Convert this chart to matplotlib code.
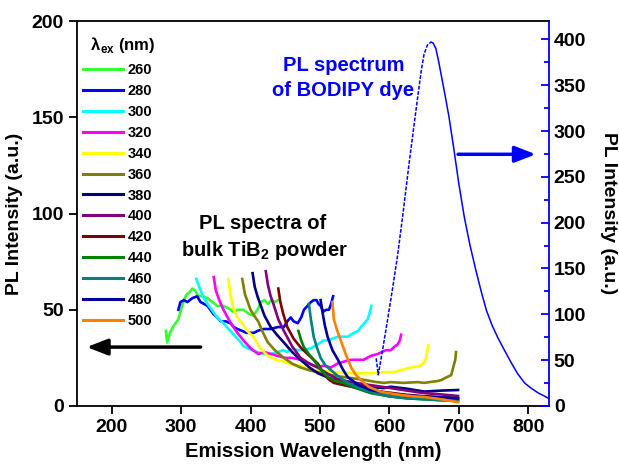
import matplotlib
matplotlib.use("Agg")
import matplotlib.pyplot as plt
import numpy as np

plt.rcParams['font.family'] = ['Liberation Sans', 'DejaVu Sans']
plt.rcParams['font.weight'] = 'bold'
plt.rcParams['mathtext.fontset'] = 'custom'
plt.rcParams['mathtext.rm'] = 'Liberation Sans'
plt.rcParams['mathtext.bf'] = 'Liberation Sans:bold'

# ---------------- data ----------------
excitation = ["260", "280", "300", "320", "340", "360", "380", "400", "420", "440", "460", "480", "500"]
colors = ['#33FF33', '#0000FF', '#00FFFF', '#FF00FF', '#FFFF00', '#808000', '#000080',
          '#800080', '#800000', '#008000', '#008080', '#0000A0', '#FF8000']

wl_260 = [278, 280, 284, 288, 292, 296, 300, 304, 308, 312, 316, 320, 325, 331, 338, 345, 352, 360, 367, 375, 382, 390, 397, 404, 410, 415, 420, 425, 430, 435, 440]
pl_260 = [39, 33, 38, 41, 43, 45, 50, 55, 58, 59, 61, 60, 57, 57, 56, 54, 52, 52, 51, 49, 50, 50, 48, 47, 50, 54, 55, 53, 55, 54, 55]

wl_280 = [296, 299, 304, 309, 316, 323, 328, 333, 338, 346, 352, 357, 364, 371, 376, 381, 388, 394, 400, 405, 410, 419, 429, 439, 448, 453, 458, 462, 468, 473, 477, 482, 487, 491, 495, 498, 501, 505, 509, 513, 516, 519]
pl_280 = [50, 54, 55, 54, 56, 57, 54, 53, 52, 48, 46, 44, 44, 43, 41, 40, 39, 38, 38, 38, 39, 40, 40, 41, 41, 44, 46, 44, 43, 46, 50, 52, 54, 55, 55, 53, 52, 49, 50, 50, 53, 57]

wl_300 = [322, 325, 328, 333, 338, 342, 346, 352, 361, 366, 371, 376, 381, 386, 390, 396, 402, 410, 420, 429, 439, 447, 453, 460, 468, 477, 487, 497, 505, 511, 518, 526, 533, 540, 549, 555, 559, 564, 569, 572, 574]
pl_300 = [66, 63, 60, 56, 53, 51, 49, 46, 43, 41, 39, 37, 35, 33, 31, 30, 29, 28, 27, 27, 28, 29, 28, 30, 29, 29, 30, 32, 34, 34, 35, 36, 36, 36, 38, 39, 41, 43, 45, 49, 52]

wl_320 = [347, 350, 355, 361, 370, 381, 390, 400, 411, 420, 430, 439, 450, 460, 472, 485, 497, 505, 516, 525, 534, 545, 554, 563, 573, 583, 595, 602, 608, 612, 615, 617]
pl_320 = [67, 60, 55, 50, 44, 38, 34, 30, 27, 28, 27, 26, 25, 25, 24, 22, 20, 21, 20, 22, 23, 24, 24, 24, 26, 27, 29, 29, 31, 32, 34, 37]

wl_340 = [368, 371, 375, 381, 388, 395, 404, 414, 425, 437, 448, 460, 472, 485, 497, 510, 525, 544, 560, 575, 592, 607, 620, 631, 640, 645, 650, 653, 656]
pl_340 = [66, 58, 51, 46, 43, 39, 36, 30, 26, 24, 23, 21.5, 21, 19, 18.6, 18, 17.5, 17, 17, 17, 17.6, 17.6, 19, 20, 20.5, 21, 22.5, 25, 31.6]

wl_360 = [388, 392, 396, 400, 405, 411, 418, 425, 435, 448, 460, 472, 485, 497, 510, 525, 545, 565, 580, 592, 602, 620, 641, 650, 660, 670, 675, 683, 689, 692, 695, 696]
pl_360 = [66, 58, 54, 50, 47, 44, 38, 33, 29, 25, 22, 20, 18.5, 17.6, 16.5, 15.5, 14.5, 13.5, 12.5, 12, 12.4, 12, 12.4, 12, 12.5, 13, 13.5, 15, 16, 20, 24, 28]

wl_380 = [403, 406, 410, 414, 420, 429, 438, 448, 460, 472, 485, 497, 510, 525, 545, 565, 592, 602, 625, 650, 675, 699]
pl_380 = [69, 62, 57, 53, 47, 41, 37, 33, 28, 24, 20, 17, 15, 13, 11, 10, 9.3, 10, 9, 7.5, 8, 8.3]

wl_400 = [422, 425, 429, 433, 440, 448, 460, 472, 485, 497, 510, 525, 545, 570, 602, 625, 650, 675, 699]
pl_400 = [70, 63, 57, 53, 45, 39, 31, 25, 22, 20, 17, 14, 12.4, 11, 9.3, 8, 6.7, 6, 5.2]

wl_420 = [440, 443, 447, 453, 462, 472, 485, 497, 505, 512, 520, 532, 545, 565, 592, 620, 650, 675, 699]
pl_420 = [61, 54, 48, 41, 35, 30.5, 26, 22, 17, 14, 12, 11, 10, 8.5, 7.3, 6, 5, 4.5, 4]

wl_440 = [469, 473, 477, 484, 491, 500, 511, 522, 534, 550, 573, 600, 625, 650, 675, 699]
pl_440 = [39, 34, 30.5, 27, 24, 19.5, 15, 13, 12, 9.5, 6.7, 5, 4, 3.5, 3, 3]

wl_460 = [484, 487, 491, 496, 501, 508, 516, 528, 540, 555, 573, 600, 625, 650, 675, 699]
pl_460 = [53, 45, 36, 30, 25, 21, 18.6, 15, 12, 9.5, 7.3, 5, 4, 3.5, 3, 2.5]

wl_480 = [501, 504, 507, 511, 518, 526, 533, 540, 555, 573, 600, 625, 650, 675, 699]
pl_480 = [55, 48, 42, 36, 29, 24, 19, 15, 11, 8.3, 6.5, 5.5, 5, 4.5, 4]

wl_500 = [518, 520, 525, 530, 537, 545, 552, 559, 570, 588, 602, 617, 635, 650, 675, 699]
pl_500 = [54, 45, 39, 34, 27, 20, 16, 13.5, 10, 7.3, 6.5, 5.7, 5, 4.7, 3.5, 2]

wl_bodipy = [581, 584, 590, 597, 605, 612, 620, 628, 635, 641, 646, 650, 655, 660, 663, 667, 671, 676, 681, 686, 693, 700, 708, 716, 725, 733, 740, 748, 756, 765, 775, 785, 795, 805, 815, 823, 830]
pl_bodipy = [52, 34, 60, 92, 130, 165, 212, 262, 303, 338, 366, 384, 394, 397, 396, 390, 376, 356, 336, 315, 280, 243, 206, 176, 147, 123, 104, 88, 75, 62, 48, 35, 25, 19, 14, 11, 8]

spectra_wl = [wl_260, wl_280, wl_300, wl_320, wl_340, wl_360, wl_380, wl_400, wl_420, wl_440, wl_460, wl_480, wl_500]
spectra_pl = [pl_260, pl_280, pl_300, pl_320, pl_340, pl_360, pl_380, pl_400, pl_420, pl_440, pl_460, pl_480, pl_500]

# ---------------- figure ----------------
fig = plt.figure(figsize=(6.19, 4.68), dpi=100)
ax = fig.add_axes([0.1244, 0.1325, 0.7625, 0.8226])
ax2 = ax.twinx()

handles = []
for wl, pl, c, lab in zip(spectra_wl, spectra_pl, colors, excitation):
    h, = ax.plot(wl, pl, color=c, lw=1.9, label=lab, solid_joinstyle='round')
    handles.append(h)

k = int(np.argmax(pl_bodipy))
ax2.plot(wl_bodipy[:k + 1], pl_bodipy[:k + 1], color='#0000FF', lw=1.1, ls=(0, (2.5, 1)))
ax2.plot(wl_bodipy[k:], pl_bodipy[k:], color='#0000FF', lw=1.1)

ax.set_xlim(150, 830)
ax.set_ylim(0, 200)
ax2.set_ylim(0, 420)

ax.set_xticks(np.arange(200, 801, 100))
ax.set_yticks(np.arange(0, 201, 50))
ax2.set_yticks(np.arange(0, 401, 50))
ax2.set_yticks(np.arange(25, 420, 50), minor=True)

ax.tick_params(axis='both', which='major', labelsize=14, width=1.3, length=6, direction='out')
ax.tick_params(axis='y', right=False)
ax.tick_params(axis='x', top=False)
ax2.tick_params(axis='y', which='major', labelsize=14, width=1.3, length=6, direction='in', color='#0000FF')
ax2.tick_params(axis='y', which='minor', width=1.3, length=3.5, direction='in', color='#0000FF')

for s in ['left', 'bottom', 'top']:
    ax.spines[s].set_linewidth(1.3)
ax.spines['right'].set_visible(False)
ax2.spines['right'].set_color('#0000FF')
ax2.spines['right'].set_linewidth(1.3)
ax2.spines['left'].set_visible(False)
ax2.spines['top'].set_visible(False)
ax2.spines['bottom'].set_visible(False)

for lbl in ax.get_xticklabels() + ax.get_yticklabels() + ax2.get_yticklabels():
    lbl.set_fontweight('bold')

ax.set_xlabel('Emission Wavelength (nm)', fontsize=14.5, fontweight='bold', labelpad=4)
ax.set_ylabel('PL Intensity (a.u.)', fontsize=14, fontweight='bold', labelpad=6)
ax2.set_ylabel('PL Intensity (a.u.)', fontsize=14, fontweight='bold', rotation=270, labelpad=22)

leg = ax.legend(handles=handles, loc='upper left', bbox_to_anchor=(-0.008, 0.99), frameon=False,
                fontsize=10.5, handlelength=2.7, handletextpad=0.35, labelspacing=0.47,
                title=r'$\;\,\mathrm{\lambda}_{\mathbf{ex}}$ (nm)', title_fontsize=12, borderaxespad=0.3)
leg._legend_box.align = 'left'
leg._legend_box.sep = 6
for t in leg.get_texts():
    t.set_fontweight('bold')
leg.get_title().set_fontweight('bold')
for lh in leg.legend_handles:
    lh.set_linewidth(2.2)

ax.text(417, 95, 'PL spectra of', fontsize=14.5, fontweight='bold', ha='center', va='center')
ax.text(420, 81, r'bulk TiB$_{\mathbf{2}}$ powder', fontsize=14.5, fontweight='bold', ha='center', va='center')
ax.text(534, 177, 'PL spectrum', fontsize=14.5, fontweight='bold', ha='center', va='center', color='#0000FF')
ax.text(534, 164, 'of BODIPY dye', fontsize=14.5, fontweight='bold', ha='center', va='center', color='#0000FF')

ax.annotate('', xy=(164, 30.6), xytext=(328, 30.6),
            arrowprops=dict(arrowstyle='-|>,head_length=0.9,head_width=0.35', lw=2.5, color='black',
                            shrinkA=0, shrinkB=0, mutation_scale=14))
ax2.annotate('', xy=(811, 274.6), xytext=(699, 274.6),
             arrowprops=dict(arrowstyle='-|>,head_length=0.9,head_width=0.35', lw=2.5, color='#0000FF',
                             shrinkA=0, shrinkB=0, mutation_scale=14))

fig.savefig('out.png', dpi=100)
